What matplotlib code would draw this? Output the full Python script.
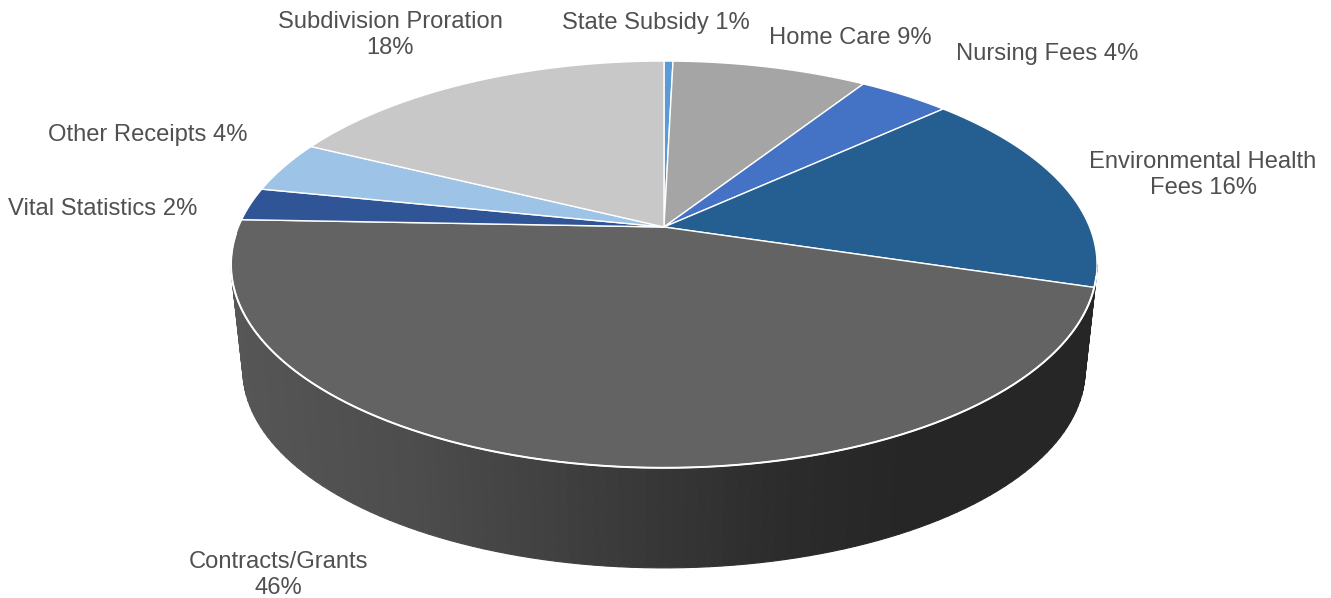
import numpy as np
import matplotlib
matplotlib.use("Agg")
import matplotlib.pyplot as plt

plt.rcParams["font.family"] = ["Liberation Sans", "DejaVu Sans"]

# slice sizes as measured on the picture, the labels carry the rounded numbers
names = ["State Subsidy", "Home Care", "Nursing Fees", "Environmental Health Fees",
         "Contracts/Grants", "Vital Statistics", "Other Receipts", "Subdivision Proration"]
shares = [0.4, 8.7, 4.1, 16.5, 45.9, 2.6, 4.1, 17.7]
labels = ["State Subsidy 1%", "Home Care 9%", "Nursing Fees 4%", "Environmental Health\nFees 16%",
          "Contracts/Grants\n46%", "Vital Statistics 2%", "Other Receipts 4%", "Subdivision Proration\n18%"]
colors = ["#5b9bd5", "#a5a5a5", "#4472c4", "#255e91", "#636363", "#2f5597", "#9dc3e6", "#c8c8c8"]
label_pos = [(656, 23), (850, 38), (1047, 54), (1203, 175), (278, 575), (103, 209), (148, 135), (390, 35)]

# perspective of the pie, in pixels
CX, CY = 664, 227
A, B, K = 425.6, 196.5, 0.184
SCALE_LOW, CY_LOW = 0.9725, 333.7


def project(theta, scale=1.0, cy=CY):
    u, v = np.sin(theta), np.cos(theta)
    w = 1 + K * v
    return CX + scale * A * u / w, cy - scale * B * v / w


fig = plt.figure(figsize=(13.31, 5.98), dpi=100)
ax = fig.add_axes([0, 0, 1, 1])
ax.set_xlim(0, 1331)
ax.set_ylim(598, 0)
ax.axis("off")

# side wall, strips so the shading can run from left to right
edges = np.radians(np.linspace(100.6, 259.4, 110))
for t0, t1 in zip(edges[:-1], edges[1:]):
    x0, y0 = project(t0)
    x1, y1 = project(t1)
    x2, y2 = project(t1, SCALE_LOW, CY_LOW)
    x3, y3 = project(t0, SCALE_LOW, CY_LOW)
    g = np.interp((x0 + x1) / 2, [232, 420, 600, 780, 900, 1094], [0x56, 0x4c, 0x3c, 0x2c, 0x26, 0x26]) / 255
    ax.fill([x0, x1, x2, x3], [y0, y1, y2, y3], color=(g, g, g), lw=0.8, zorder=1)

# top face
bounds = np.radians(np.cumsum([0] + shares) / sum(shares) * 360)
for i in range(len(shares)):
    t = np.linspace(bounds[i], bounds[i + 1], 200)
    x, y = project(t)
    ax.fill(np.r_[CX, x], np.r_[CY, y], facecolor=colors[i], edgecolor="white",
            lw=1.0, joinstyle="round", zorder=2)

# brighter rim along the front
t = np.radians(np.linspace(104, 268, 300))
x, y = project(t)
ax.plot(x, y, color="white", lw=1.4, zorder=3)

for lab, (lx, ly) in zip(labels, label_pos):
    ax.text(lx, ly, lab, ha="center", va="center", fontsize=17.1, color="#505050",
            linespacing=1.22, zorder=4)

fig.savefig("out.png", dpi=100)
